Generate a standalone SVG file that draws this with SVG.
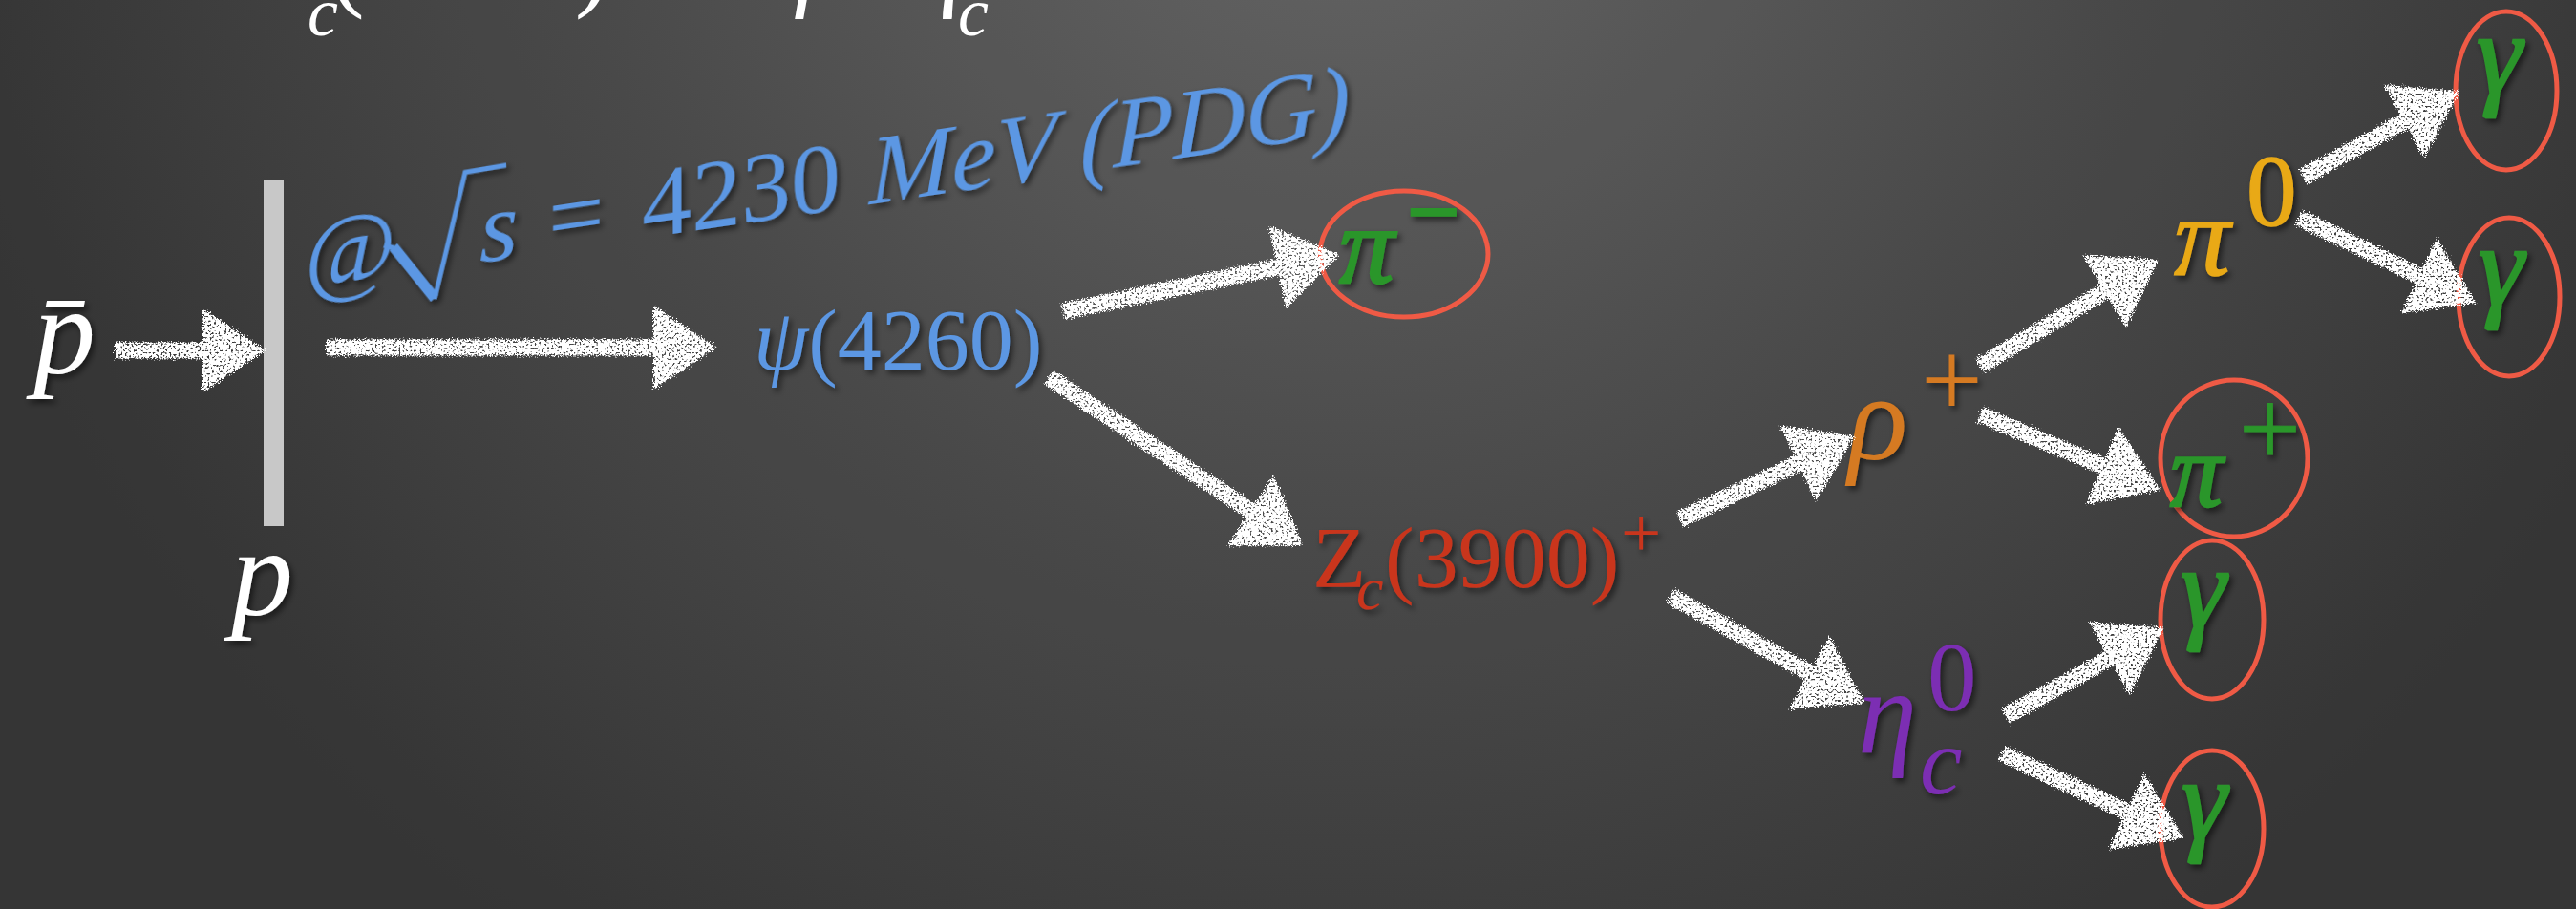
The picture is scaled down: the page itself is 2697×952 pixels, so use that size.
<svg xmlns="http://www.w3.org/2000/svg" width="2697" height="952" viewBox="0 0 2697 952">
<defs>
<radialGradient id="bg" gradientUnits="userSpaceOnUse" cx="1400" cy="-250" r="1500">
<stop offset="0" stop-color="#626262"/>
<stop offset="0.55" stop-color="#424242"/>
<stop offset="1" stop-color="#2c2c2c"/>
</radialGradient>
<filter id="grain" filterUnits="userSpaceOnUse" x="0" y="0" width="2697" height="952">
<feTurbulence type="fractalNoise" baseFrequency="0.9" numOctaves="2" seed="5"/>
<feColorMatrix type="matrix" values="0 0 0 0 0.5  0 0 0 0 0.5  0 0 0 0 0.5  0 0 0 0 0.06"/>
</filter>
<filter id="chalk" filterUnits="userSpaceOnUse" x="0" y="0" width="2697" height="952">
<feTurbulence type="fractalNoise" baseFrequency="0.7" numOctaves="2" seed="3" result="n"/>
<feDisplacementMap in="SourceGraphic" in2="n" scale="9" xChannelSelector="R" yChannelSelector="G" result="d"/>
<feTurbulence type="fractalNoise" baseFrequency="0.45" numOctaves="1" seed="11" result="n2"/>
<feColorMatrix in="n2" type="matrix" values="0 0 0 0 1  0 0 0 0 1  0 0 0 0 1  9 0 0 0 -2.9" result="holes"/>
<feComposite in="d" in2="holes" operator="in"/>
</filter>
<filter id="sh" x="-20%" y="-20%" width="140%" height="140%">
<feDropShadow dx="3" dy="4" stdDeviation="3" flood-color="#000" flood-opacity="0.55"/>
</filter>
<marker id="ah" markerUnits="userSpaceOnUse" viewBox="0 -46 66 92" refX="24" refY="0" markerWidth="66" markerHeight="92" orient="auto">
<path d="M0,-44 L66,0 L0,44 Z" fill="#ffffff"/>
</marker>
<style>
.m{font-family:"Liberation Serif","DejaVu Serif",serif;}
.i{font-style:italic;}
.n{font-style:normal;}
.sh{filter:url(#sh);}
.ring{fill:none;stroke:#ef5a45;stroke-width:5;}
.arr{stroke:#ffffff;stroke-width:17;fill:none;marker-end:url(#ah);}
.wh{fill:#ffffff;}
.bl{fill:#5b97e3;}
.gr{fill:#2a962a;stroke:#2a962a;stroke-width:2.5;}
.rd{fill:#c9361f;}
.or{fill:#d57a20;}
.go{fill:#e9a916;stroke:#e9a916;stroke-width:1.5;}
.pu{fill:#7b2db3;}
</style>
</defs>
<rect width="2697" height="952" fill="url(#bg)"/>
<rect width="2697" height="952" filter="url(#grain)"/>

<g id="title">
<text class="m wh" font-size="110" y="-3"><tspan x="262" class="n">Z</tspan><tspan x="322" y="37" font-size="72" class="i">c</tspan><tspan x="345" y="-3" class="n">(3900) → </tspan><tspan x="835" class="i">ρ</tspan><tspan x="955" class="i">η</tspan><tspan x="1003" y="37" font-size="72" class="i">c</tspan></text>
</g>

<g id="pbar">
<text class="m i wh sh" font-size="130" x="35" y="390">p̄</text>
</g>

<g id="target">
<rect x="276" y="188" width="21" height="363" fill="#c8c8c8"/>
<text class="m i wh sh" font-size="130" x="242" y="643">p</text>
</g>

<g id="energy" transform="translate(704,245) skewY(-8.5)">
<g class="sh">
<path d="M-302,-33 L-292,-29" stroke="#5b97e3" stroke-width="5" fill="none"/>
<path d="M-292,-30 L-249,30" stroke="#5b97e3" stroke-width="10" fill="none"/>
<path d="M-249,31 L-217,-97 L-174,-98" stroke="#5b97e3" stroke-width="5" fill="none"/>
<text font-family="Liberation Serif, DejaVu Serif, serif" fill="#5b97e3" font-size="104" y="0"><tspan x="-385" font-style="normal">@</tspan><tspan x="-202" font-style="italic">s</tspan><tspan x="-130" font-style="normal">=</tspan><tspan x="-32" font-style="normal">4230</tspan><tspan x="206" font-style="italic">MeV (PDG)</tspan></text>
</g>
</g>

<g id="psi">
<text class="m bl sh" font-size="92" x="789" y="387"><tspan class="i">ψ</tspan>(4260)</text>
</g>

<g id="pim">
<ellipse class="ring" cx="1470" cy="266" rx="88" ry="66"/>
<text class="m i gr sh" font-size="115" x="1402" y="296">π<tspan x="1474" y="254" font-size="95" class="n" stroke-width="4">−</tspan></text>
</g>

<g id="zc">
<text class="m rd sh" font-size="92" x="1374" y="615">Z<tspan x="1420" y="638" font-size="64" class="i">c</tspan><tspan x="1450" y="615">(3900)</tspan><tspan x="1697" y="583" font-size="75">+</tspan></text>
</g>

<g id="rho">
<text class="m i or sh" font-size="130" x="1935" y="481">ρ<tspan x="2011" y="436" font-size="115" class="n">+</tspan></text>
</g>

<g id="etac">
<text class="m i pu sh" font-size="125" x="1945" y="788">η<tspan x="2010" y="831" font-size="100">c</tspan><tspan x="2018" y="744" font-size="103" class="n">0</tspan></text>
</g>

<g id="pi0">
<text class="m i go sh" font-size="118" x="2276" y="288">π<tspan x="2352" y="236" font-size="105" class="n">0</tspan></text>
</g>

<g id="pip">
<ellipse class="ring" cx="2339" cy="480" rx="77" ry="82"/>
<text class="m i gr sh" font-size="110" x="2272" y="530">π<tspan x="2344" y="487" font-size="115" class="n" stroke-width="1">+</tspan></text>
</g>

<g id="gamma1">
<ellipse class="ring" cx="2624" cy="95" rx="53" ry="83"/>
<text class="m i gr sh" font-size="120" x="2593" y="97">γ</text>
</g>
<g id="gamma2">
<ellipse class="ring" cx="2627" cy="311" rx="53" ry="83"/>
<text class="m i gr sh" font-size="120" x="2595" y="319">γ</text>
</g>
<g id="gamma3">
<ellipse class="ring" cx="2316" cy="649" rx="54" ry="83"/>
<text class="m i gr sh" font-size="120" x="2283" y="656">γ</text>
</g>
<g id="gamma4">
<ellipse class="ring" cx="2316" cy="868" rx="54" ry="82"/>
<text class="m i gr sh" font-size="120" x="2284" y="878">γ</text>
</g>

<g id="connectors" filter="url(#chalk)">
<line class="arr" x1="120" y1="367" x2="236" y2="367"/>
<line class="arr" x1="342" y1="364" x2="708" y2="364"/>
<line class="arr" x1="1113" y1="326" x2="1361" y2="275"/>
<line class="arr" x1="1098" y1="395" x2="1329" y2="548"/>
<line class="arr" x1="1759" y1="544" x2="1904" y2="475"/>
<line class="arr" x1="1749" y1="624" x2="1915" y2="716"/>
<line class="arr" x1="2073" y1="383" x2="2224" y2="293"/>
<line class="arr" x1="2073" y1="434" x2="2223" y2="497"/>
<line class="arr" x1="2411" y1="185" x2="2538" y2="116"/>
<line class="arr" x1="2407" y1="228" x2="2554" y2="299"/>
<line class="arr" x1="2100" y1="750" x2="2229" y2="678"/>
<line class="arr" x1="2096" y1="789" x2="2248" y2="860"/>
</g>
</svg>
